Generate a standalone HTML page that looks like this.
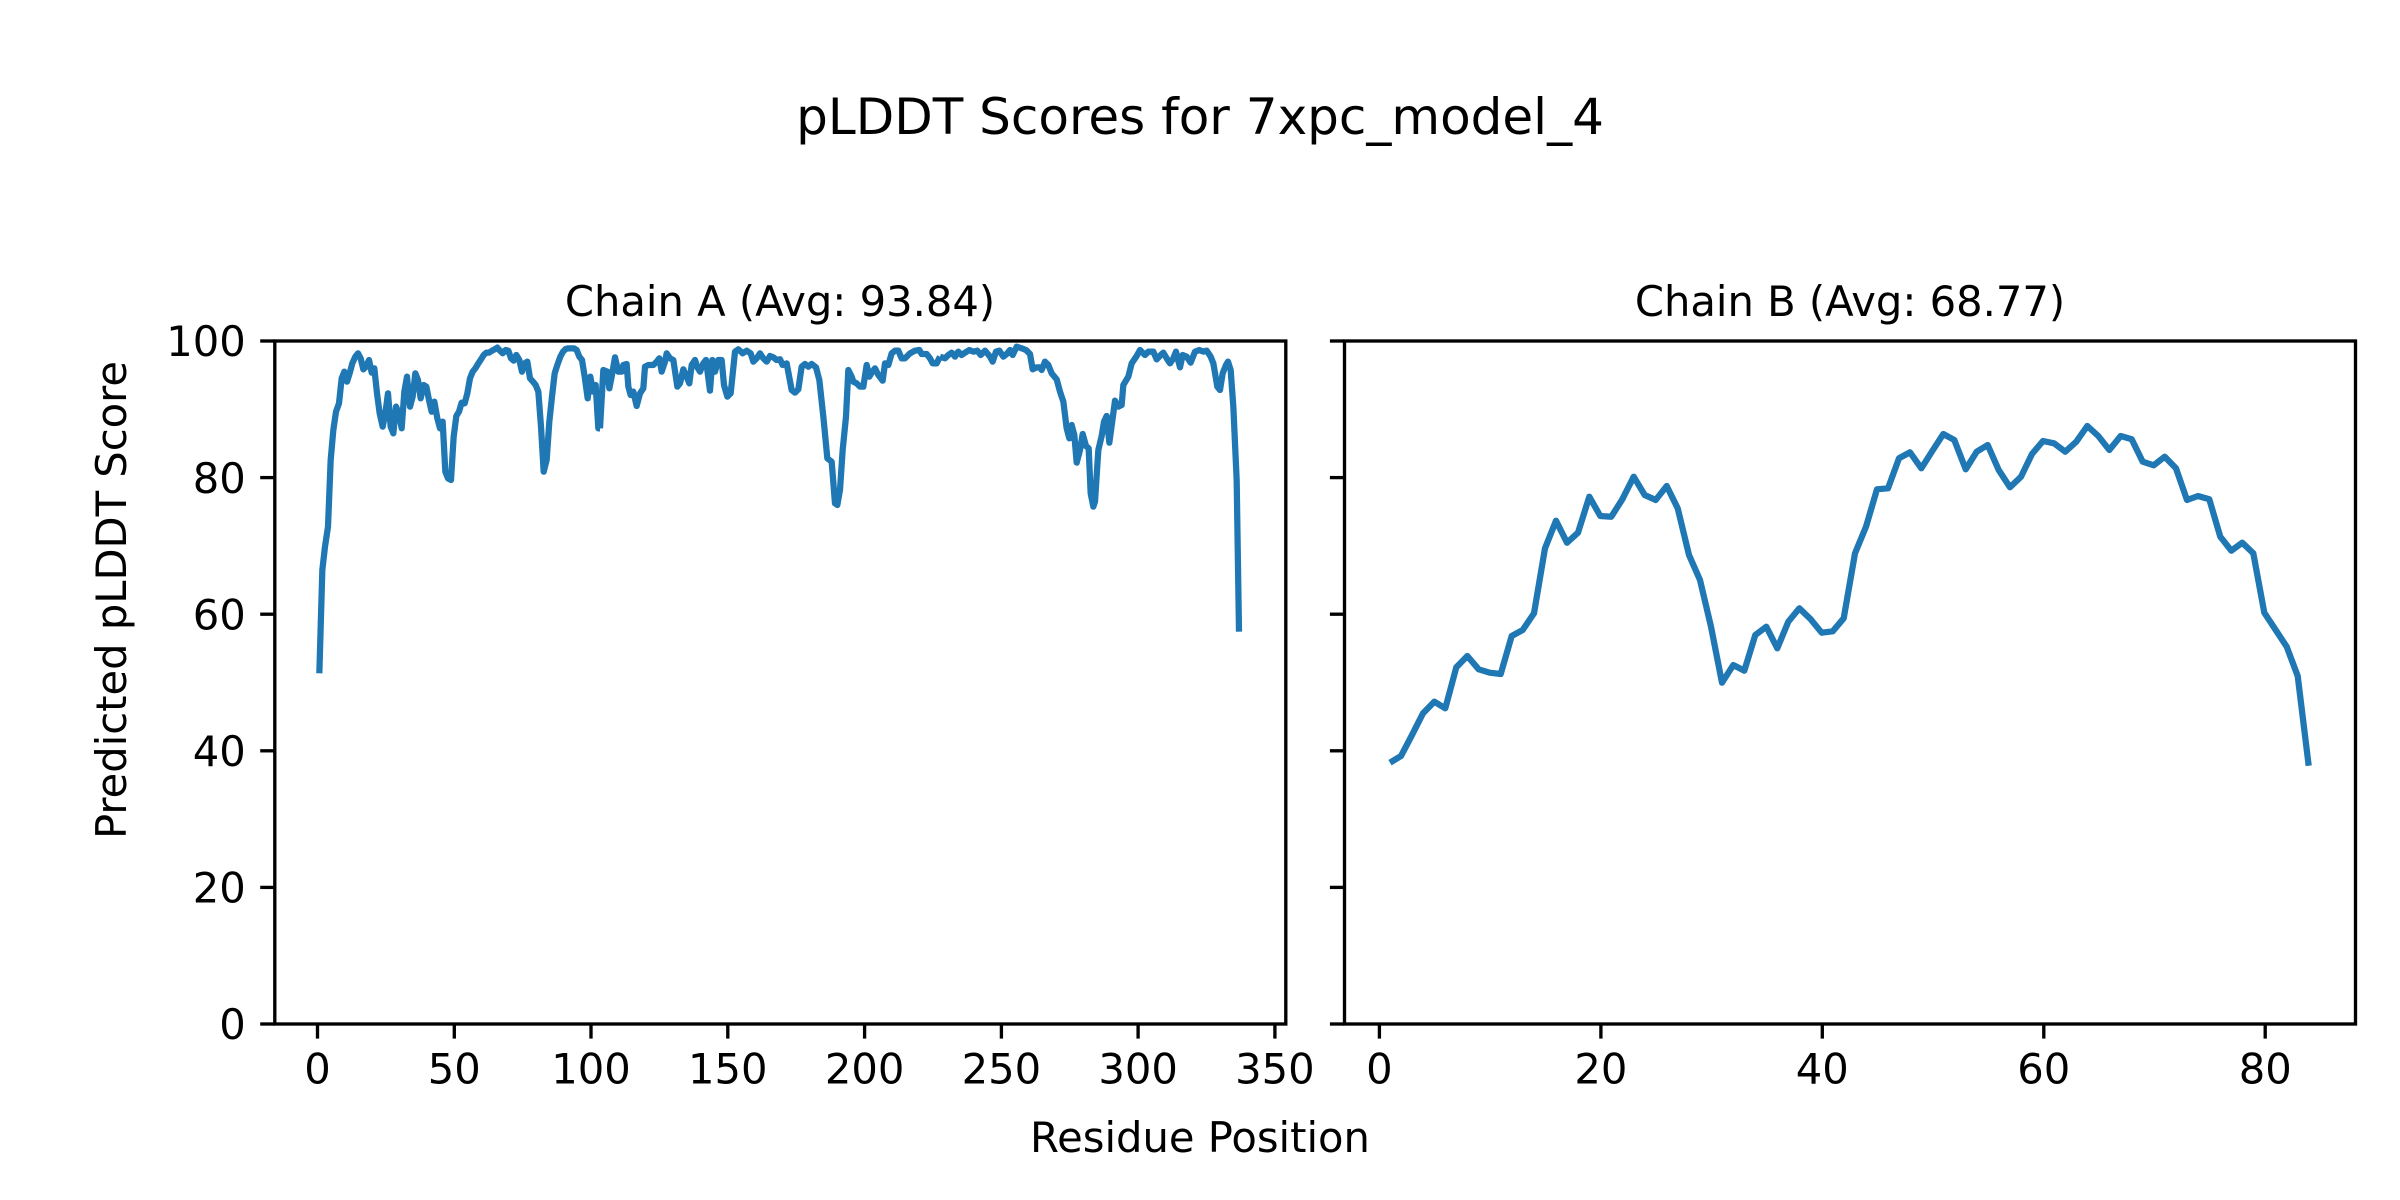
<!DOCTYPE html>
<html>
<head>
<meta charset="utf-8">
<style>
  html, body { margin: 0; padding: 0; background: #ffffff; }
  svg { display: block; }
  text { font-family: "DejaVu Sans", "Liberation Sans", sans-serif; fill: #000; }
</style>
</head>
<body>
<svg xmlns="http://www.w3.org/2000/svg" width="2400" height="1200" viewBox="0 0 2400 1200">
  <rect x="0" y="0" width="2400" height="1200" fill="#ffffff"/>

  <!-- Suptitle -->
  <text x="1200" y="134" font-size="50" text-anchor="middle">pLDDT Scores for 7xpc_model_4</text>

  <!-- Axis titles -->
  <text x="780" y="316" font-size="41.67" text-anchor="middle">Chain A (Avg: 93.84)</text>
  <text x="1850" y="316" font-size="41.67" text-anchor="middle">Chain B (Avg: 68.77)</text>

  <!-- Shared labels -->
  <text x="1200" y="1152" font-size="41.67" text-anchor="middle">Residue Position</text>
  <text transform="translate(126,600) rotate(-90)" font-size="41.67" text-anchor="middle">Predicted pLDDT Score</text>

  <!-- Chain A data -->
  <g fill="none" stroke="#1f77b4" stroke-linejoin="round" stroke-linecap="butt">
    <g transform="translate(270,330) scale(0.333333)">
      <polyline stroke-width="18.75" points="148,1030 157,720 165,650 174,590 182,390 190,300 198,245 207,220 215,145 223,125 231,155 239,130 247,100 256,80 264,70 272,85 280,118 288,110 297,90 305,128 313,115 321,190 329,250 338,290 346,250 354,190 362,290 370,310 378,230 387,250 395,295 403,185 411,140 420,230 428,200 436,130 444,150 452,205 461,165 469,170 477,210 485,245 493,215 502,265 510,295 518,275 526,425 534,445 543,450 551,320 559,258 567,245 575,218 584,220 592,190 600,145 608,125 616,115 625,100 633,88 641,75 649,68 657,68 666,62 674,58 682,53 690,62 698,70 707,60 715,62 723,85 731,92 739,75 748,90 756,125 764,100 772,95 780,145 789,155 797,165 805,185 813,290 821,425 830,390 838,275 846,200 854,130 862,105 871,80 879,65 887,57 895,55 903,55 912,55 920,60 928,80 936,90 944,140 953,205 961,140 969,185 977,165 985,295 990,295"/>
    </g>
    <g transform="translate(600,330) scale(0.333333)">
      <polyline stroke-width="18.75" points="0,295 10,120 22,125 28,175 35,140 45,82 55,125 65,125 70,105 80,102 85,170 92,195 100,185 110,228 120,190 130,175 135,110 145,105 160,105 170,95 178,85 185,125 195,95 200,70 210,85 220,90 232,170 240,160 250,118 260,140 268,160 275,105 285,90 292,112 300,125 310,100 318,90 330,182 337,90 345,125 355,90 365,90 372,165 382,200 392,190 405,65 415,58 428,70 440,62 452,70 460,95 470,85 480,70 490,85 500,95 510,78 520,82 530,90 540,88 548,105 560,100 575,180 585,188 595,178 605,110 615,102 625,110 635,102 648,112 658,150 670,260 682,385 695,395 705,520 712,525 720,480 728,360 738,260 745,120 755,140 760,155 770,160 780,170 790,170 800,105 808,140 815,128 825,115 835,135 848,152 855,100 865,105 875,70 885,62 895,62 905,85 915,85 930,70 945,62 958,60 965,72 980,72 990,85 998,100 1010,100 1020,80"/>
    </g>
    <g transform="translate(940,330) scale(0.333333)">
      <polyline stroke-width="18.75" points="0,80 15,85 25,75 35,68 45,80 55,65 65,75 75,68 88,60 100,65 112,62 122,75 135,62 150,80 158,95 168,65 178,62 190,80 200,72 210,60 218,75 230,50 245,55 258,60 270,72 278,118 290,112 300,112 305,120 315,95 325,105 335,130 350,148 360,185 370,215 380,295 388,325 395,285 403,315 410,398 420,360 428,312 438,348 446,355 452,490 460,530 465,515 475,360 485,318 492,275 500,258 508,338 518,265 525,212 535,230 545,225 550,165 565,140 575,100 590,78 600,60 615,75 625,65 640,65 650,88 662,75 670,68 680,85 690,100 700,85 708,65 720,112 728,75 740,80 752,98 765,65 778,60 790,65 800,62 812,80 820,100 832,170 840,180 848,130 858,105 864,95 872,120 880,230 890,450 897,905"/>
    </g>
  </g>

  <!-- Chain B data -->
  <polyline fill="none" stroke="#1f77b4" stroke-width="6.25" stroke-linejoin="round"
    points="1390,762.7 1401,756 1412,735 1423,713.3 1434.3,701.7 1445.3,708.3 1456.3,667.3 1467.3,656 1478.7,669.3 1489.7,672.7 1500.7,674 1511.7,636 1522.7,630 1534,613.3 1545,548.3 1556,520.7 1567,542.7 1578,532.7 1589.3,496.7 1600.3,516 1611.3,516.7 1622.3,499.3 1633.7,476.7 1644.7,495 1655.7,500 1666.7,486 1677.7,508.3 1689,555 1700,580 1711,626.7 1722,682.7 1733.3,665 1744.3,670.7 1755.3,635 1766.3,626.7 1777.3,648.3 1788.3,621.7 1799.3,608.3 1810.7,619.3 1821.7,632.7 1832.7,631.3 1843.7,618.3 1855,553.3 1866,526.7 1877,489.3 1888,488.3 1899,458.3 1910,452.3 1921.3,468.3 1932.3,451 1943.3,434 1954.3,440 1965.7,469.3 1976.7,451.7 1987.7,445 1998.7,470 2010,487.3 2021,476.7 2032,454 2043,441 2054,443.3 2065.3,451.7 2076.3,441.7 2087.3,426 2098.3,436 2109.3,450 2120.7,436 2131.7,439.3 2142.7,461.7 2153.7,465.3 2164.7,456.7 2176,468.3 2187,500 2198,496 2209.3,499.3 2220.3,536.7 2231.3,550.7 2242.3,542.7 2253.3,553.3 2264.3,612.7 2275.7,630 2286.7,646.7 2297.7,676 2308.7,765.7"/>

  <!-- Spines -->
  <rect x="274.8" y="341" width="1011" height="683" fill="none" stroke="#000" stroke-width="3.33"/>
  <rect x="1344.5" y="341" width="1011" height="683" fill="none" stroke="#000" stroke-width="3.33"/>

  <!-- Y ticks (both axes) -->
  <g stroke="#000" stroke-width="3.33">
    <line x1="260.2" y1="1024" x2="274.8" y2="1024"/>
    <line x1="260.2" y1="887.4" x2="274.8" y2="887.4"/>
    <line x1="260.2" y1="750.8" x2="274.8" y2="750.8"/>
    <line x1="260.2" y1="614.2" x2="274.8" y2="614.2"/>
    <line x1="260.2" y1="477.6" x2="274.8" y2="477.6"/>
    <line x1="260.2" y1="341" x2="274.8" y2="341"/>
    <line x1="1329.9" y1="1024" x2="1344.5" y2="1024"/>
    <line x1="1329.9" y1="887.4" x2="1344.5" y2="887.4"/>
    <line x1="1329.9" y1="750.8" x2="1344.5" y2="750.8"/>
    <line x1="1329.9" y1="614.2" x2="1344.5" y2="614.2"/>
    <line x1="1329.9" y1="477.6" x2="1344.5" y2="477.6"/>
    <line x1="1329.9" y1="341" x2="1344.5" y2="341"/>
  </g>

  <!-- X ticks A -->
  <g stroke="#000" stroke-width="3.33">
    <line x1="317.5" y1="1024" x2="317.5" y2="1038.6"/>
    <line x1="454.3" y1="1024" x2="454.3" y2="1038.6"/>
    <line x1="591.0" y1="1024" x2="591.0" y2="1038.6"/>
    <line x1="727.8" y1="1024" x2="727.8" y2="1038.6"/>
    <line x1="864.6" y1="1024" x2="864.6" y2="1038.6"/>
    <line x1="1001.4" y1="1024" x2="1001.4" y2="1038.6"/>
    <line x1="1138.1" y1="1024" x2="1138.1" y2="1038.6"/>
    <line x1="1274.9" y1="1024" x2="1274.9" y2="1038.6"/>
  </g>
  <!-- X ticks B -->
  <g stroke="#000" stroke-width="3.33">
    <line x1="1379.4" y1="1024" x2="1379.4" y2="1038.6"/>
    <line x1="1600.9" y1="1024" x2="1600.9" y2="1038.6"/>
    <line x1="1822.3" y1="1024" x2="1822.3" y2="1038.6"/>
    <line x1="2043.8" y1="1024" x2="2043.8" y2="1038.6"/>
    <line x1="2265.2" y1="1024" x2="2265.2" y2="1038.6"/>
  </g>

  <!-- Y tick labels -->
  <g font-size="41.67" text-anchor="end">
    <text x="245.8" y="1039.2">0</text>
    <text x="245.8" y="902.6">20</text>
    <text x="245.8" y="766">40</text>
    <text x="245.8" y="629.4">60</text>
    <text x="245.8" y="492.8">80</text>
    <text x="245.8" y="356.2">100</text>
  </g>

  <!-- X tick labels A -->
  <g font-size="41.67" text-anchor="middle">
    <text x="317.5" y="1083.3">0</text>
    <text x="454.3" y="1083.3">50</text>
    <text x="591.0" y="1083.3">100</text>
    <text x="727.8" y="1083.3">150</text>
    <text x="864.6" y="1083.3">200</text>
    <text x="1001.4" y="1083.3">250</text>
    <text x="1138.1" y="1083.3">300</text>
    <text x="1274.9" y="1083.3">350</text>
  </g>
  <!-- X tick labels B -->
  <g font-size="41.67" text-anchor="middle">
    <text x="1379.4" y="1083.3">0</text>
    <text x="1600.9" y="1083.3">20</text>
    <text x="1822.3" y="1083.3">40</text>
    <text x="2043.8" y="1083.3">60</text>
    <text x="2265.2" y="1083.3">80</text>
  </g>
</svg>
</body>
</html>
